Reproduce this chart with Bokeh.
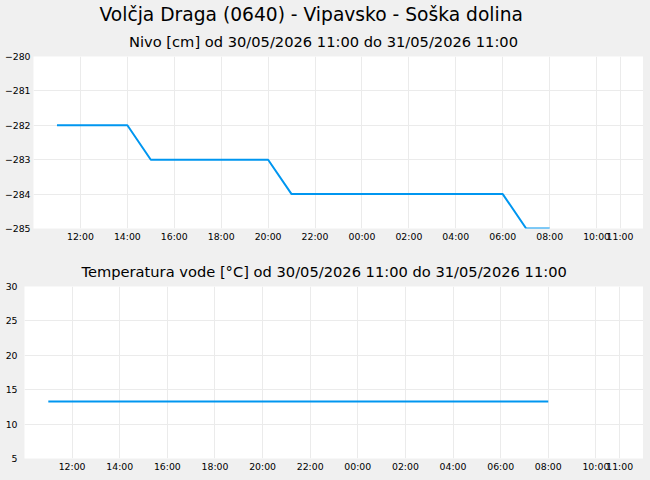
from datetime import datetime

from bokeh.plotting import figure
from bokeh.models import (ColumnDataSource, Range1d, FixedTicker,
                          DatetimeTickFormatter, Title, GlobalInlineStyleSheet)
from bokeh.layouts import column, row
from bokeh.embed import file_html
from bokeh.resources import INLINE

# ---------------- data ----------------
main_title = "Volčja Draga (0640) - Vipavsko - Soška dolina"
level_title = "Nivo [cm] od 30/05/2026 11:00 do 31/05/2026 11:00"
temp_title = "Temperatura vode [°C] od 30/05/2026 11:00 do 31/05/2026 11:00"

times = [
    "2026-05-30 11:00", "2026-05-30 12:00", "2026-05-30 13:00", "2026-05-30 14:00",
    "2026-05-30 15:00", "2026-05-30 16:00", "2026-05-30 17:00", "2026-05-30 18:00",
    "2026-05-30 19:00", "2026-05-30 20:00", "2026-05-30 21:00", "2026-05-30 22:00",
    "2026-05-30 23:00", "2026-05-31 00:00", "2026-05-31 01:00", "2026-05-31 02:00",
    "2026-05-31 03:00", "2026-05-31 04:00", "2026-05-31 05:00", "2026-05-31 06:00",
    "2026-05-31 07:00", "2026-05-31 08:00",
]
level_cm = [
    -282, -282, -282, -282,
    -283, -283, -283, -283, -283, -283,
    -284, -284, -284, -284, -284, -284, -284, -284, -284, -284,
    -285, -285,
]
temp_c = [
    13.3, 13.3, 13.3, 13.3, 13.3, 13.3, 13.3, 13.3, 13.3, 13.3, 13.3,
    13.3, 13.3, 13.3, 13.3, 13.3, 13.3, 13.3, 13.3, 13.3, 13.3, 13.3,
]
x_tick_times = [
    "2026-05-30 12:00", "2026-05-30 14:00", "2026-05-30 16:00", "2026-05-30 18:00",
    "2026-05-30 20:00", "2026-05-30 22:00", "2026-05-31 00:00", "2026-05-31 02:00",
    "2026-05-31 04:00", "2026-05-31 06:00", "2026-05-31 08:00", "2026-05-31 10:00",
    "2026-05-31 11:00",
]
x_start = "2026-05-30 10:00"
x_end = "2026-05-31 12:00"
level_ticks = [-285, -284, -283, -282, -281, -280]
temp_ticks = [5, 10, 15, 20, 25, 30]

# ---------------- helpers ----------------
FMT = "%Y-%m-%d %H:%M"
EPOCH = datetime(1970, 1, 1)


def dt(s):
    return datetime.strptime(s, FMT)


def ms(s):
    return (dt(s) - EPOCH).total_seconds() * 1000.0


BG = "#f0f0f0"
LINE = "#0096f0"
GRID = "#ebebeb"
FONT = "DejaVu Sans"
TICK_FS = "9.33px"
W = 643


def make_fig(height, y_lo, y_hi, yticks, b_left, b_top, b_bottom, x_standoff, y_standoff):
    p = figure(width=W, height=height, x_axis_type="datetime",
               x_range=Range1d(dt(x_start), dt(x_end)),
               y_range=Range1d(y_lo, y_hi),
               output_backend="svg", toolbar_location=None,
               min_border_left=b_left, min_border_right=0,
               min_border_top=b_top, min_border_bottom=b_bottom,
               background_fill_color="white", border_fill_color=BG,
               outline_line_color=None)
    p.xaxis.ticker = FixedTicker(ticks=[ms(t) for t in x_tick_times])
    p.xaxis.formatter = DatetimeTickFormatter(
        microseconds="%H:%M", milliseconds="%H:%M", seconds="%H:%M",
        minsec="%H:%M", minutes="%H:%M", hourmin="%H:%M", hours="%H:%M",
        days="%H:%M", months="%H:%M", years="%H:%M")
    p.yaxis.ticker = FixedTicker(ticks=yticks)
    for ax in (p.xaxis, p.yaxis):
        ax.axis_line_color = None
        ax.major_tick_line_color = None
        ax.minor_tick_line_color = None
        ax.major_tick_out = 0
        ax.major_tick_in = 0
        ax.major_label_text_font = FONT
        ax.major_label_text_font_size = TICK_FS
        ax.major_label_text_color = "#000000"
    p.xaxis.major_label_standoff = x_standoff
    p.yaxis.major_label_standoff = y_standoff
    p.grid.grid_line_color = GRID
    p.grid.grid_line_width = 1
    return p


src = ColumnDataSource(dict(t=[dt(s) for s in times], level=level_cm, temp=temp_c))

# ---------------- top: level ----------------
p1 = make_fig(253, -285, -280, level_ticks, 33, 56, 25, 2, 3)
p1.line("t", "level", source=src, line_color=LINE, line_width=2)
p1.add_layout(Title(text=level_title, text_font=FONT, text_font_size="14.67px",
                    text_font_style="normal", text_color="#000000",
                    align="left", offset=95.5, standoff=13), "above")
p1.add_layout(Title(text=main_title, text_font=FONT, text_font_size="18.67px",
                    text_font_style="normal", text_color="#000000",
                    align="left", offset=66, standoff=0), "above")

# ---------------- bottom: temperature ----------------
p2 = make_fig(221, 5, 30, temp_ticks, 24, 33, 16, 2, 7)
p2.line("t", "temp", source=src, line_color=LINE, line_width=2)
p2.add_layout(Title(text=temp_title, text_font=FONT, text_font_size="14.67px",
                    text_font_style="normal", text_color="#000000",
                    align="left", offset=57, standoff=13), "above")

layout = column(row(p1), row(p2), spacing=0,
                stylesheets=[GlobalInlineStyleSheet(css="body { background-color: #f0f0f0; }")])

open("out.html", "w").write(file_html(layout, INLINE))
